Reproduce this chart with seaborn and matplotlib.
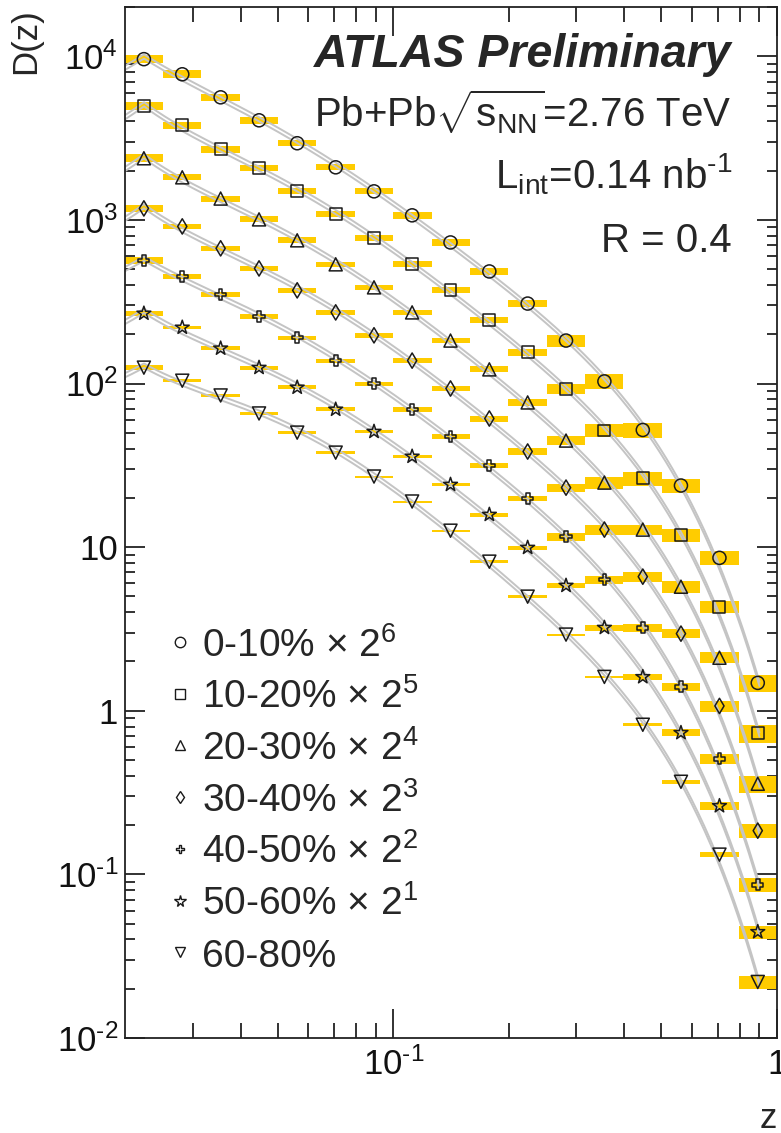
import numpy as np
import pandas as pd
import matplotlib
matplotlib.use('Agg')
import matplotlib.pyplot as plt
import seaborn as sns
from matplotlib.ticker import FixedLocator, FixedFormatter, NullFormatter

# z binning (10 log bins per decade)
z_edges = [0.01995, 0.02512, 0.03162, 0.03981, 0.05012, 0.06310, 0.07943, 0.1,
           0.1259, 0.1585, 0.1995, 0.2512, 0.3162, 0.3981, 0.5012, 0.6310, 0.7943, 1.0]
z_centers = [0.0224, 0.0282, 0.0355, 0.0447, 0.0562, 0.0708, 0.0891, 0.112, 0.141,
             0.178, 0.224, 0.282, 0.355, 0.447, 0.562, 0.708, 0.891]

cent_names = ['0-10%', '10-20%', '20-30%', '30-40%', '40-50%', '50-60%', '60-80%']
scale_text = [r' $\times$ 2$^{6}$', r' $\times$ 2$^{5}$', r' $\times$ 2$^{4}$', r' $\times$ 2$^{3}$',
              r' $\times$ 2$^{2}$', r' $\times$ 2$^{1}$', '']

# D(z), already multiplied by the scale factor shown in the legend
D_0_10 = [9600, 7760, 5610, 4060, 2940, 2095, 1494, 1066, 728, 484, 308, 183, 103, 52, 23.8, 8.6, 1.48]
D_10_20 = [4940, 3790, 2700, 2065, 1495, 1081, 780, 535, 371, 243, 155, 93, 51.6, 26.3, 11.9, 4.33, 0.73]
D_20_30 = [2380, 1820, 1350, 1007, 750, 535, 387, 272, 183, 122, 76.6, 44.8, 24.8, 12.8, 5.73, 2.11, 0.358]
D_30_40 = [1175, 912, 670, 505, 371, 272, 197, 138, 93.2, 61.1, 38.4, 23.1, 12.8, 6.6, 2.96, 1.07, 0.185]
D_40_50 = [565, 451, 350, 257, 191, 138, 100, 69.4, 47.4, 31.5, 19.8, 11.6, 6.33, 3.22, 1.40, 0.508, 0.0863]
D_50_60 = [268, 220, 164, 125, 94.6, 69.4, 50.8, 35.8, 24.1, 15.8, 9.93, 5.82, 3.22, 1.61, 0.733, 0.262, 0.0445]
D_60_80 = [125, 104, 84.5, 65.6, 50.1, 37.8, 27.0, 19.0, 12.6, 8.15, 4.98, 2.92, 1.61, 0.821, 0.368, 0.132, 0.022]

# systematic uncertainty (%) per bin
sys_0_10 = [5.6, 5.6, 4.9, 4.9, 4.2, 4.2, 4.2, 4.9, 4.9, 4.9, 4.9, 8.4, 10.6, 10.6, 9.9, 9.9, 12.0]
sys_10_20 = [5.6, 4.9, 4.9, 4.2, 4.2, 4.2, 4.2, 4.2, 4.2, 4.2, 4.9, 7.0, 9.2, 9.9, 9.2, 8.4, 12.7]
sys_20_30 = [5.6, 4.2, 4.2, 4.2, 4.2, 3.5, 3.5, 3.5, 3.5, 4.2, 4.9, 6.3, 8.4, 7.0, 8.4, 7.7, 12.0]
sys_30_40 = [4.9, 4.2, 3.5, 3.5, 3.5, 3.5, 3.5, 3.5, 3.5, 4.2, 4.9, 5.6, 7.0, 7.0, 6.3, 7.7, 9.9]
sys_40_50 = [4.9, 3.5, 3.5, 3.5, 2.8, 2.8, 2.8, 3.5, 3.5, 3.5, 3.5, 5.6, 5.6, 5.6, 5.6, 7.0, 9.9]
sys_50_60 = [4.2, 2.8, 2.8, 2.8, 2.8, 2.8, 2.1, 2.1, 2.1, 2.8, 2.8, 3.5, 4.2, 4.2, 4.9, 5.6, 9.2]
sys_60_80 = [3.5, 2.1, 2.1, 2.1, 2.1, 2.1, 1.4, 1.4, 1.4, 2.1, 2.1, 1.4, 1.8, 2.1, 2.8, 3.5, 9.2]

all_D = [D_0_10, D_10_20, D_20_30, D_30_40, D_40_50, D_50_60, D_60_80]
all_sys = [sys_0_10, sys_10_20, sys_20_30, sys_30_40, sys_40_50, sys_50_60, sys_60_80]

markers = ['o', 's', '^', 'd', 'P', '*', 'v']
msizes = [9.4, 8.6, 9.4, 7.8, 8.0, 10.5, 9.4]

sns.set_style('ticks')
plt.rcParams['font.family'] = ['Liberation Sans', 'DejaVu Sans']
plt.rcParams['mathtext.fontset'] = 'custom'
plt.rcParams['mathtext.rm'] = 'Liberation Sans'
plt.rcParams['mathtext.it'] = 'Liberation Sans:italic'
plt.rcParams['mathtext.bf'] = 'Liberation Sans:bold'

W, H = 781, 1133
fig = plt.figure(figsize=(W / 100, H / 100), dpi=100)
L, R, T, B = 125, 777, 7, 1038
ax = fig.add_axes([L / W, 1 - B / H, (R - L) / W, (B - T) / H])
ax.set_xscale('log')
ax.set_yscale('log')
ax.set_xlim(0.02, 1.0)
ax.set_ylim(0.01, 2.0e4)

edges = np.array(z_edges)
zc = np.array(z_centers)
zfine = np.logspace(np.log10(0.02), np.log10(0.9), 300)
lzf = np.log10(zfine)
lz0 = np.log10(zc[0])
# fold the curve back below the first bin so it turns over at low z
lz_eval = np.where(lzf < lz0, 2 * lz0 - lzf, lzf)

rows = []
for i in range(7):
    d = np.array(all_D[i])
    s = np.array(all_sys[i]) / 100.0
    # systematic bands
    ax.bar(edges[:-1], d * 2 * s, width=np.diff(edges), bottom=d * (1 - s),
           align='edge', color='#ffcc00', lw=0, zorder=1)
    # smooth reference curves (pair of lines)
    c = np.polyfit(np.log10(zc), np.log10(d), 5)
    yfit = 10 ** np.polyval(c, lz_eval)
    for f in (1.03, 1 / 1.03):
        ax.plot(zfine, yfit * f, color='#c4c4c4', lw=1.4, zorder=2)
    for zz, dd in zip(zc, d):
        rows.append({'z': zz, 'D': dd, 'cent': cent_names[i]})

df = pd.DataFrame(rows)
for i, name in enumerate(cent_names):
    sub = df[df['cent'] == name]
    sns.scatterplot(data=sub, x='z', y='D', marker=markers[i], s=msizes[i] ** 2,
                    facecolor='none', edgecolor='#1a1a1a', linewidth=1.1,
                    zorder=3, ax=ax, legend=False)

# axes styling
ax.xaxis.set_major_locator(FixedLocator([0.1, 1.0]))
ax.xaxis.set_major_formatter(FixedFormatter(['10$^{\u2010\\mathrm{1}}$', '1']))
ax.xaxis.set_minor_locator(FixedLocator([0.03, 0.04, 0.05, 0.06, 0.07, 0.08, 0.09,
                                         0.2, 0.3, 0.4, 0.5, 0.6, 0.7, 0.8, 0.9]))
ax.xaxis.set_minor_formatter(NullFormatter())
yt = [0.01, 0.1, 1, 10, 100, 1000, 10000]
ax.yaxis.set_major_locator(FixedLocator(yt))
ax.yaxis.set_major_formatter(FixedFormatter(['10$^{\u20102}$', '10$^{\u20101}$', '1', '10',
                                             '10$^{2}$', '10$^{3}$', '10$^{4}$']))
ymin_t = [m * 10.0 ** e for e in range(-2, 5) for m in range(2, 10)]
ax.yaxis.set_minor_locator(FixedLocator(ymin_t))
ax.yaxis.set_minor_formatter(NullFormatter())

ax.tick_params(which='both', direction='in', top=True, right=True, width=1.3,
               color='#222222', labelsize=25, labelcolor='#111111')
ax.tick_params(axis='x', which='major', length=21, pad=7)
ax.tick_params(axis='x', which='minor', length=11)
ax.tick_params(axis='y', which='major', length=14.5, pad=5)
ax.tick_params(axis='y', which='minor', length=7.2)
for sp in ax.spines.values():
    sp.set_linewidth(1.3)
    sp.set_color('#222222')
ax.set_xlabel('')
ax.set_ylabel('')

# axis titles
fig.text(777 / W, 1 - 1128 / H, 'z', fontsize=25, ha='right', va='baseline')
fig.text(42 / W, 1 - 8 / H, 'D(z)', fontsize=25, rotation=90, ha='right', va='top')

# labels at top right
xr = 732 / W
fig.text(xr, 1 - 67 / H, 'ATLAS Preliminary', fontsize=33.5, fontweight='bold',
         fontstyle='italic', ha='right', va='baseline')
fig.text(xr, 1 - 127 / H, r'Pb+Pb$\sqrt{\mathrm{s}_{\mathrm{NN}}}$=2.76 TeV', fontsize=29,
         ha='right', va='baseline')
fig.text(xr, 1 - 188 / H, 'L$_{\\mathrm{int}}$=0.14 nb$^{\u20101}$', fontsize=29,
         ha='right', va='baseline')
fig.text(xr, 1 - 252 / H, 'R = 0.4', fontsize=29, ha='right', va='baseline')

# legend
for i, name in enumerate(cent_names):
    ypix = 642 + 51.7 * i
    ax.plot([(180 - L) / (R - L)], [(B - ypix) / (B - T)], marker=markers[i],
            ms=msizes[i] * 0.8, mfc='none', mec='#1a1a1a', mew=1.0,
            transform=ax.transAxes, clip_on=False, zorder=4)
    fig.text(202 / W, 1 - (ypix + 14.5) / H, name + scale_text[i], fontsize=28,
             ha='left', va='baseline')

fig.savefig('out.png', dpi=100)
